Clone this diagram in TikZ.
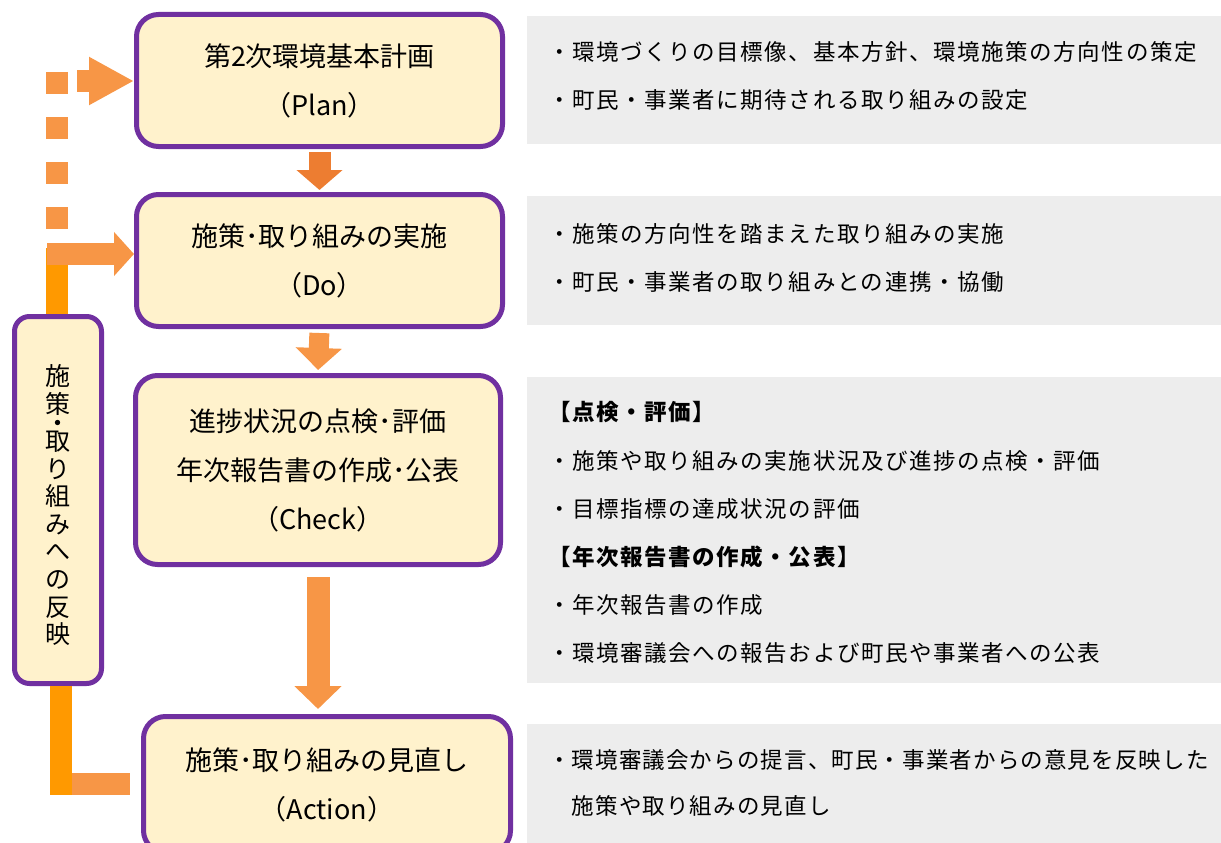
\documentclass[tikz,border=0pt]{standalone}
\usepackage{fontspec}
\setmainfont{Noto Sans CJK JP}
\newfontfamily\jpr[LetterSpace=7]{Noto Sans CJK JP}
\newfontfamily\jprn[LetterSpace=5]{Noto Sans CJK JP}
\usetikzlibrary{arrows.meta,calc}
\definecolor{pur}{HTML}{7030A0}
\definecolor{boxfill}{HTML}{FFF2CC}
\definecolor{panelgrey}{HTML}{EDEDED}
\definecolor{lor}{HTML}{F79646}
\definecolor{dor}{HTML}{ED7D31}
\definecolor{vor}{HTML}{FF9900}
\begin{document}
\begin{tikzpicture}[x=1pt,y=-1pt,
  stage/.style={draw=pur, line width=5pt, fill=boxfill, rounded corners=22pt, align=center,
    font=\fontsize{27}{49}\selectfont, inner sep=0pt},
  panel/.style={fill=panelgrey, inner sep=0pt, anchor=north west, minimum width=694pt},
  note/.style={anchor=base west, inner sep=0pt, font=\jpr\fontsize{22.5}{22.5}\selectfont},
  notetight/.style={note, font=\jprn\fontsize{22.5}{22.5}\selectfont},
  head/.style={note, font=\jpr\bfseries\fontsize{22.5}{22.5}\selectfont},
  vtext/.style={inner sep=0pt, align=center, font=\fontsize{25}{27.6}\selectfont},
  flow/.style={line width=22pt, draw=lor},
]
\useasboundingbox (0,0) rectangle (1221,843);

% grey panels
\node[panel, minimum height=128pt] (p1) at (527,16) {};
\node[panel, minimum height=129pt] (p2) at (527,196) {};
\node[panel, minimum height=306pt] (p3) at (527,377) {};
\node[panel, minimum height=140pt] (p4) at (527,724) {};

% panel texts
\node[note] (t1a) at (548,60) {・環境づくりの目標像、基本方針、環境施策の方向性の策定};
\node[note] (t1b) at (548,108) {・町民・事業者に期待される取り組みの設定};
\node[note] (t2a) at (548,242) {・施策の方向性を踏まえた取り組みの実施};
\node[note] (t2b) at (548,290) {・町民・事業者の取り組みとの連携・協働};
\node[head] (t3a) at (548,420) {【点検・評価】};
\node[note] (t3b) at (548,469) {・施策や取り組みの実施状況及び進捗の点検・評価};
\node[note] (t3c) at (548,517) {・目標指標の達成状況の評価};
\node[head] (t3d) at (548,565) {【年次報告書の作成・公表】};
\node[note] (t3e) at (548,613) {・年次報告書の作成};
\node[note] (t3f) at (548,661) {・環境審議会への報告および町民や事業者への公表};
\node[notetight] (t4a) at (548,768) {・環境審議会からの提言、町民・事業者からの意見を反映した};
\node[notetight] (t4b) at (548,814) {　施策や取り組みの見直し};

% left feedback connectors (behind boxes)
\coordinate (dtop) at (57,72);
\coordinate (dbot) at (57,230);
\draw[flow, dash pattern=on 22pt off 23pt] (dtop) -- (dbot);
\coordinate (vtop) at (57,248);
\coordinate (vbot) at (61,795);
\coordinate (hl) at (52,784);

% stage boxes
\node[stage, minimum width=366pt, minimum height=132pt] (plan) at (319.5,80.5) {第2次環境基本計画\\（Plan）};
\node[stage, minimum width=366pt, minimum height=132pt] (do) at (319.5,260.5) {施策･取り組みの実施\\（Do）};
\node[stage, minimum width=365pt, minimum height=189pt] (check) at (318,470) {進捗状況の点検･評価\\年次報告書の作成･公表\\（Check）};
\node[stage, minimum width=367pt, minimum height=136pt] (action) at (327,784.5) {施策･取り組みの見直し\\（Action）};
\node[stage, rounded corners=15pt, minimum width=87pt, minimum height=367pt] (fb) at (58,500) {};
\node[vtext, font=\fontsize{25}{28}\selectfont] (fbA) at (58,390) {施\\策};
\node[vtext, anchor=base] (fbDot) at (58,432.5) {・};
\node[vtext] (fbB) at (58,538.5) {取\\り\\組\\み\\へ\\の\\反\\映};

\draw[flow, draw=vor] (vtop) -- (vtop |- fb.north);
\draw[flow] (hl) -- (hl -| action.west) [shorten >=11pt];
\draw[flow, draw=vor] (vbot |- fb.south) -- (vbot);

% arrows to Plan and Do
\coordinate (pa) at (77,81);
\draw[flow, -{Triangle[width=45pt,length=45pt]}, fill=lor] (pa) -- (pa -| plan.west);
\coordinate (da) at (47,254);
\draw[flow, -{Triangle[width=43pt,length=20pt]}, fill=lor] (da) -- (da -| do.west);

% downward arrows
\draw[flow, draw=dor, fill=dor, -{Triangle[width=45pt,length=20pt]}, shorten <=3pt, shorten >=2pt] (plan.south) -- (do.north);
\draw[flow, line width=20pt, -{Triangle[width=45pt,length=22pt]}, fill=lor, shorten <=4pt, shorten >=3pt] (do.south) -- (check.north);
\draw[flow, line width=23pt, -{Triangle[width=46pt,length=23pt]}, fill=lor, shorten <=10pt, shorten >=5pt] (check.south) -- (check.south |- action.north);
\end{tikzpicture}
\end{document}
